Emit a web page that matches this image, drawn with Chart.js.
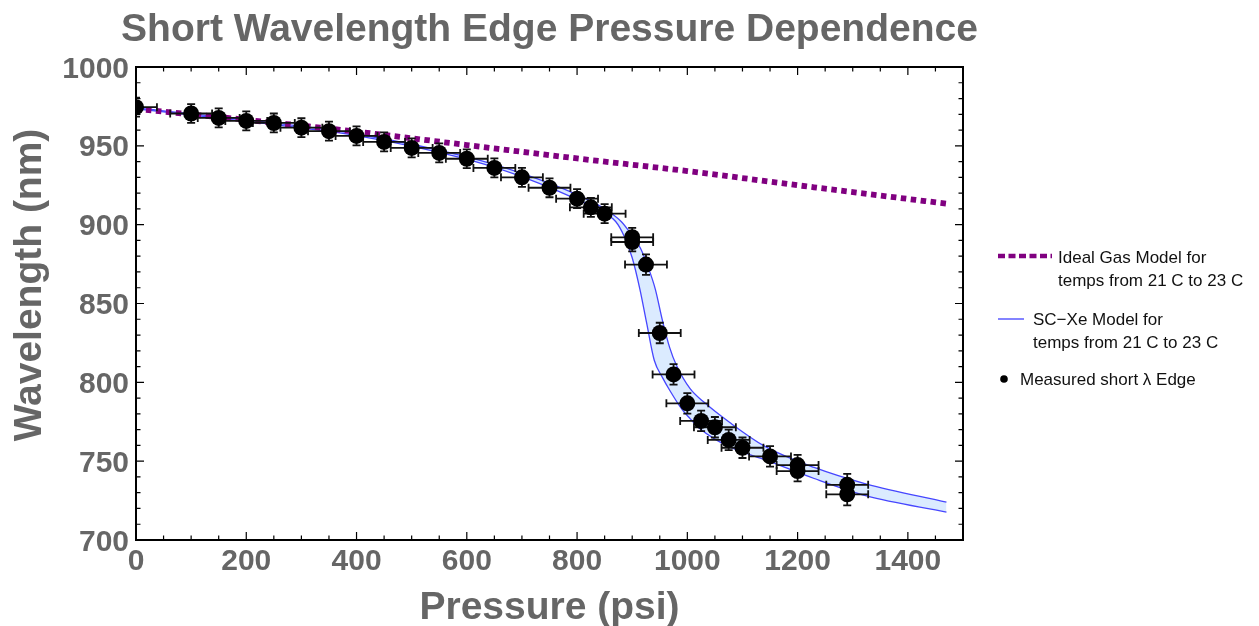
<!DOCTYPE html>
<html><head><meta charset="utf-8">
<script src="https://cdn.jsdelivr.net/npm/chart.js@4.4.1/dist/chart.umd.min.js"></script>
<style>html,body{margin:0;padding:0;background:#fff;overflow:hidden}#wrap{position:relative;width:1259px;height:626px}</style>
</head><body><div id="wrap"><canvas id="c" width="1259" height="626"></canvas></div>
<script>
const titleText = 'Short Wavelength Edge Pressure Dependence';
const xAxisTitle = 'Pressure (psi)';
const yAxisTitle = 'Wavelength (nm)';
const xTickLabels = [0, 200, 400, 600, 800, 1000, 1200, 1400];
const yTickLabels = [700, 750, 800, 850, 900, 950, 1000];

// Measured short-wavelength edge
const measPressure   = [0, 100, 150, 200, 250, 300, 350, 400, 450, 500, 550, 600, 650, 700, 750, 800, 825, 850, 900, 900, 925, 950, 975, 1000, 1025, 1050, 1075, 1100, 1150, 1200, 1200, 1290, 1290];
const measWavelength = [974.5, 970.5, 967.7, 965.8, 964.5, 961.5, 959.3, 956.3, 952.5, 948.7, 945.5, 941.8, 936, 930, 923.4, 916.5, 911, 907, 892, 889, 874.7, 831.3, 805, 786.7, 775.5, 771.5, 763.5, 758.5, 753, 747.5, 743.7, 735, 729];
const measPressureErr   = [38, 38, 38, 38, 38, 38, 38, 38, 38, 38, 38, 38, 38, 38, 38, 38, 38, 38, 38, 38, 38, 38, 38, 38, 38, 38, 38, 38, 38, 38, 38, 38, 38];
const measWavelengthErr = [6, 6, 6, 6, 6, 6, 6, 6, 6, 6, 6, 6, 6, 6, 6, 6, 6, 6, 6, 6, 6.5, 6.5, 6.5, 6.5, 6.5, 6.5, 6.5, 6.5, 6.5, 6.5, 6.5, 7, 7];

// Ideal gas model
const idealPressure   = [0, 200, 400, 600, 800, 1000, 1200, 1470];
const idealWavelength = [973.4, 966.5, 959, 950.5, 942, 934, 925, 913.3];

// SC-Xe model band, lower (left) curve
const scLowPressure   = [0, 200, 400, 600, 700, 800, 850, 870, 885, 900, 914, 926, 940, 955, 968, 990, 1005, 1023, 1050, 1080, 1144, 1230, 1325, 1470];
const scLowWavelength = [973.5, 965.5, 956.5, 941.5, 930.5, 916, 907, 902, 893, 879, 859, 838, 814, 803, 795, 783, 777, 770.5, 764, 758.5, 750.5, 739, 728, 717.7];
// SC-Xe model band, upper (right) curve
const scHighPressure   = [0, 200, 400, 600, 700, 800, 850, 880, 900, 915, 930, 942, 955, 968, 980, 1005, 1030, 1077, 1140, 1230, 1325, 1470];
const scHighWavelength = [974, 966.5, 957.5, 943, 932.5, 919, 910, 902, 893, 885, 872, 859, 839, 822, 811, 796, 787.5, 774.5, 759.5, 746, 735.5, 724];

const legendEntries = [
  ['Ideal Gas Model for', 'temps from 21 C to 23 C'],
  ['SC\u2212Xe Model for', 'temps from 21 C to 23 C'],
  ['Measured short \u03bb Edge']
];

const zip = (xs, ys) => xs.map((x, i) => ({x: x, y: ys[i]}));
const GRAY = '#666666';
const FONT = '"Liberation Sans", Arial, Helvetica, sans-serif';

const errorBars = {
  id: 'errorBars',
  beforeDatasetDraw(chart, args) {
    if (args.index !== 0) return;
    const ctx = chart.ctx, xs = chart.scales.x, ys = chart.scales.y, a = chart.chartArea;
    ctx.save();
    ctx.beginPath(); ctx.rect(a.left, a.top, a.right - a.left, a.bottom - a.top); ctx.clip();
    ctx.strokeStyle = '#111'; ctx.lineWidth = 1.8;
    const cap = 4;
    for (let i = 0; i < measPressure.length; i++) {
      const px = xs.getPixelForValue(measPressure[i]);
      const py = ys.getPixelForValue(measWavelength[i]);
      const x1 = xs.getPixelForValue(measPressure[i] - measPressureErr[i]);
      const x2 = xs.getPixelForValue(measPressure[i] + measPressureErr[i]);
      const y1 = ys.getPixelForValue(measWavelength[i] + measWavelengthErr[i]);
      const y2 = ys.getPixelForValue(measWavelength[i] - measWavelengthErr[i]);
      ctx.beginPath();
      ctx.moveTo(x1, py); ctx.lineTo(x2, py);
      ctx.moveTo(x1, py - cap); ctx.lineTo(x1, py + cap);
      ctx.moveTo(x2, py - cap); ctx.lineTo(x2, py + cap);
      ctx.moveTo(px, y1); ctx.lineTo(px, y2);
      ctx.moveTo(px - cap, y1); ctx.lineTo(px + cap, y1);
      ctx.moveTo(px - cap, y2); ctx.lineTo(px + cap, y2);
      ctx.stroke();
    }
    ctx.restore();
  }
};

const frameAndText = {
  id: 'frameAndText',
  afterDraw(chart) {
    const ctx = chart.ctx, xs = chart.scales.x, ys = chart.scales.y, a = chart.chartArea;
    ctx.save();
    ctx.strokeStyle = '#000'; ctx.lineWidth = 2;
    ctx.strokeRect(a.left, a.top, a.right - a.left, a.bottom - a.top);
    ctx.lineWidth = 1.2;
    ctx.beginPath();
    const xStep = xTickLabels[1] - xTickLabels[0];
    for (let v = xs.min; v <= xs.max + 1e-6; v += xStep / 4) {
      const major = Math.abs(v / xStep - Math.round(v / xStep)) < 1e-6;
      const len = major ? 8 : 4.5;
      const p = xs.getPixelForValue(v);
      ctx.moveTo(p, a.bottom); ctx.lineTo(p, a.bottom - len);
      ctx.moveTo(p, a.top); ctx.lineTo(p, a.top + len);
    }
    const yStep = yTickLabels[1] - yTickLabels[0];
    for (let v = ys.min; v <= ys.max + 1e-6; v += yStep / 5) {
      const major = Math.abs((v - ys.min) / yStep - Math.round((v - ys.min) / yStep)) < 1e-6;
      const len = major ? 8 : 4.5;
      const p = ys.getPixelForValue(v);
      ctx.moveTo(a.left, p); ctx.lineTo(a.left + len, p);
      ctx.moveTo(a.right, p); ctx.lineTo(a.right - len, p);
    }
    ctx.stroke();

    ctx.fillStyle = GRAY;
    ctx.font = 'bold 30px ' + FONT;
    ctx.textBaseline = 'alphabetic';
    ctx.textAlign = 'center';
    xTickLabels.forEach(v => ctx.fillText(String(v), xs.getPixelForValue(v), a.bottom + 30));
    ctx.textAlign = 'right';
    yTickLabels.forEach(v => ctx.fillText(String(v), a.left - 7, ys.getPixelForValue(v) + 10.5));

    ctx.font = 'bold 39px ' + FONT;
    ctx.textAlign = 'center';
    const cx = (a.left + a.right) / 2;
    ctx.fillText(titleText, cx, 41);
    ctx.fillText(xAxisTitle, cx, 619);
    ctx.save();
    ctx.translate(41, 285);
    ctx.rotate(-Math.PI / 2);
    ctx.fillText(yAxisTitle, 0, 0);
    ctx.restore();

    ctx.fillStyle = '#111';
    ctx.font = '17px ' + FONT;
    ctx.textAlign = 'left';
    ctx.strokeStyle = 'rgb(128,0,128)'; ctx.lineWidth = 4.5; ctx.setLineDash([7, 3.5]);
    ctx.beginPath(); ctx.moveTo(998, 256); ctx.lineTo(1052, 256); ctx.stroke();
    ctx.setLineDash([]);
    ctx.fillText(legendEntries[0][0], 1058, 262.5);
    ctx.fillText(legendEntries[0][1], 1058, 286);
    ctx.strokeStyle = 'rgb(90,90,255)'; ctx.lineWidth = 1.5;
    ctx.beginPath(); ctx.moveTo(998, 319); ctx.lineTo(1024, 319); ctx.stroke();
    ctx.fillText(legendEntries[1][0], 1033, 325);
    ctx.fillText(legendEntries[1][1], 1033, 347.5);
    ctx.fillStyle = '#000';
    ctx.beginPath(); ctx.arc(1004, 379, 3.8, 0, Math.PI * 2); ctx.fill();
    ctx.fillStyle = '#111';
    ctx.fillText(legendEntries[2][0], 1020, 385);
    ctx.restore();
  }
};

new Chart(document.getElementById('c'), {
  type: 'scatter',
  data: {
    datasets: [
      { label: 'Measured', data: zip(measPressure, measWavelength), pointRadius: 8, pointHoverRadius: 8,
        backgroundColor: '#000', borderColor: '#000', borderWidth: 0, showLine: false, clip: 0 },
      { label: 'Ideal', data: zip(idealPressure, idealWavelength), showLine: true, pointRadius: 0,
        borderColor: 'rgb(128,0,128)', borderWidth: 5.8, borderDash: [5.5, 4.5], borderCapStyle: 'butt',
        cubicInterpolationMode: 'monotone', fill: false },
      { label: 'SC low', data: zip(scLowPressure, scLowWavelength), showLine: true, pointRadius: 0,
        borderColor: 'rgb(70,70,255)', borderWidth: 1.3, cubicInterpolationMode: 'monotone',
        fill: { target: 3 }, backgroundColor: 'rgb(219,235,255)' },
      { label: 'SC high', data: zip(scHighPressure, scHighWavelength), showLine: true, pointRadius: 0,
        borderColor: 'rgb(70,70,255)', borderWidth: 1.3, cubicInterpolationMode: 'monotone', fill: false }
    ]
  },
  options: {
    responsive: false, animation: false, devicePixelRatio: 1,
    layout: { padding: { left: 136, right: 296, top: 67, bottom: 86 } },
    scales: {
      x: { type: 'linear', min: 0, max: 1500, display: false },
      y: { type: 'linear', min: 700, max: 1000, display: false }
    },
    plugins: { legend: { display: false }, tooltip: { enabled: false }, title: { display: false },
      filler: { drawTime: 'beforeDatasetsDraw', propagate: false } },
    events: []
  },
  plugins: [errorBars, frameAndText]
});
</script></body></html>
